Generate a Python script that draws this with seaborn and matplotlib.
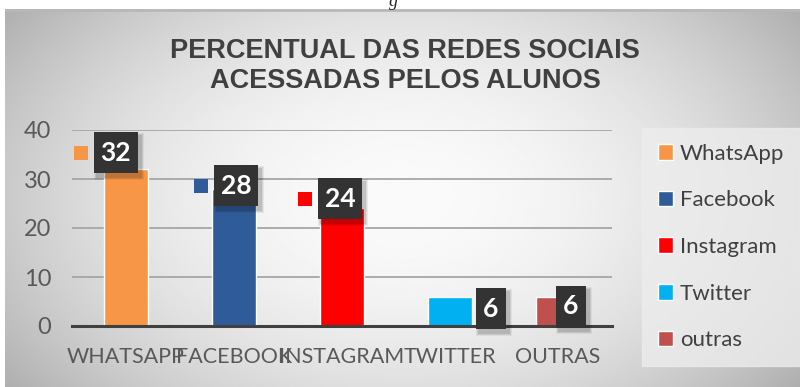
import numpy as np
import pandas as pd
import matplotlib
matplotlib.use("Agg")
import matplotlib.pyplot as plt
import seaborn as sns
from matplotlib.patches import Rectangle

# ---- data ----
categories = ["WHATSAPP", "FACEBOOK", "INSTAGRAM", "TWITTER", "OUTRAS"]
series = ["WhatsApp", "Facebook", "Instagram", "Twitter", "outras"]
values = [32, 28, 24, 6, 6]
yticks = [0, 10, 20, 30, 40]
title = "PERCENTUAL DAS REDES SOCIAIS\nACESSADAS PELOS ALUNOS"

# ---- style ----
colors = ["#F79646", "#2F5C98", "#FF0000", "#00B0F0", "#C0504D"]
label_dx = [-0.097, 0.023, -0.019, 0.375, 0.12]     # label box offset (category units)
label_dy = [3.4, 0.6, 2.0, -2.5, -2.0]               # label box offset (value units)
key_dx = [-0.417, -0.306, -0.347, None, None]         # legend-key square offsets

sns.set_theme(style="white")
plt.rcParams["font.family"] = ["Lato", "DejaVu Sans"]

W, H = 800, 387
fig = plt.figure(figsize=(W / 100, H / 100), dpi=100)
fig.patch.set_facecolor("white")

# background gradient panel
bg = fig.add_axes([5 / W, 0, 1 - 5 / W, (H - 9) / H])
yy, xx = np.mgrid[-1:1:200j, -1:1:400j]
r2 = (xx ** 2) * 0.9 + (yy ** 2) * 0.5
grad = 0.98 - 0.21 * r2
bg.imshow(grad, cmap="gray", vmin=0, vmax=1, aspect="auto", extent=[0, 1, 0, 1])
bg.plot([0, 1], [0.997, 0.997], color="#b8b8b8", lw=2)
bg.set_xlim(0, 1); bg.set_ylim(0, 1)
bg.axis("off")

# main axes
ax = fig.add_axes([72 / W, 1 - 326 / H, (612 - 72) / W, (326 - 130) / H])
ax.set_facecolor("none")
df = pd.DataFrame({"cat": categories, "serie": series, "val": values})
sns.barplot(data=df, x="cat", y="val", hue="serie", hue_order=series,
            palette=colors, dodge=False, width=0.4, saturation=1,
            ax=ax, legend=True, zorder=3)

ax.set_ylim(0, 40)
ax.set_xlim(-0.5, len(categories) - 0.5)
ax.set_yticks(yticks)
ax.set_xlabel(""); ax.set_ylabel("")
for s in ["top", "right", "left"]:
    ax.spines[s].set_visible(False)
ax.spines["bottom"].set_color("#404040")
ax.spines["bottom"].set_linewidth(2.2)
ax.spines["bottom"].set_zorder(5)
ax.yaxis.grid(True, color="#a6a6a6", lw=1.3)
ax.set_axisbelow(True)
ax.tick_params(axis="y", length=0, labelsize=17, labelcolor="#595959", pad=15)
ax.tick_params(axis="x", which="major", length=0, labelsize=15.5, labelcolor="#595959", pad=15)
ax.set_xticks(np.arange(-0.5, len(categories), 1.0), minor=True)
ax.tick_params(axis="x", which="minor", length=6, width=2.2, color="#404040", direction="out")
for lab in ax.get_yticklabels():
    lab.set_ha("right")

# legend
leg = ax.legend(loc="upper left", bbox_to_anchor=(642 / W, 1 - 128 / H),
                bbox_transform=fig.transFigure, frameon=True, fontsize=16,
                handlelength=0.7, handleheight=0.7, handletextpad=0.3,
                labelspacing=1.2, borderpad=0.7, fancybox=False,
                borderaxespad=0)
leg.get_frame().set_facecolor("#ededed")
leg.get_frame().set_edgecolor("#ededed")
for t in leg.get_texts():
    t.set_color("#404040")

# title
fig.text(405 / W, 1 - 66 / H, title, ha="center", va="center",
         fontsize=19.5, fontweight="bold", color="#404040",
         family=["Liberation Sans", "DejaVu Sans"], linespacing=1.2)

# partial text from page above
fig.text(393 / W, 1 - 1 / H, "g", ha="center", va="center", fontsize=13,
         family=["Liberation Serif", "DejaVu Serif"], style="italic", color="#222222")

# data labels
fig.canvas.draw()
for i, v in enumerate(values):
    cx, cy = ax.transData.transform((i + label_dx[i], v + label_dy[i]))
    txt = str(v)
    bw = 44 if len(txt) > 1 else 30
    bh = 41
    for k, a in [(6, 0.06), (4, 0.08), (2, 0.1)]:
        fig.patches.append(Rectangle((cx - bw / 2 + 3 - k / 2, cy - bh / 2 - 4 - k / 2),
                                     bw + k, bh + k, transform=None,
                                     facecolor="black", alpha=a, edgecolor="none", zorder=8))
    fig.patches.append(Rectangle((cx - bw / 2, cy - bh / 2), bw, bh, transform=None,
                                 facecolor="#333333", edgecolor="none", zorder=9))
    fig.text(cx / W, cy / H, txt, ha="center", va="center", fontsize=19,
             fontweight="bold", color="white", zorder=10)
    if key_dx[i] is not None:
        kx, ky = ax.transData.transform((i + key_dx[i], v + label_dy[i]))
        s = 14
        fig.patches.append(Rectangle((kx - s / 2, ky - s / 2), s, s, transform=None,
                                     facecolor=colors[i], edgecolor="none", zorder=9))

fig.savefig("out.png", dpi=100)
